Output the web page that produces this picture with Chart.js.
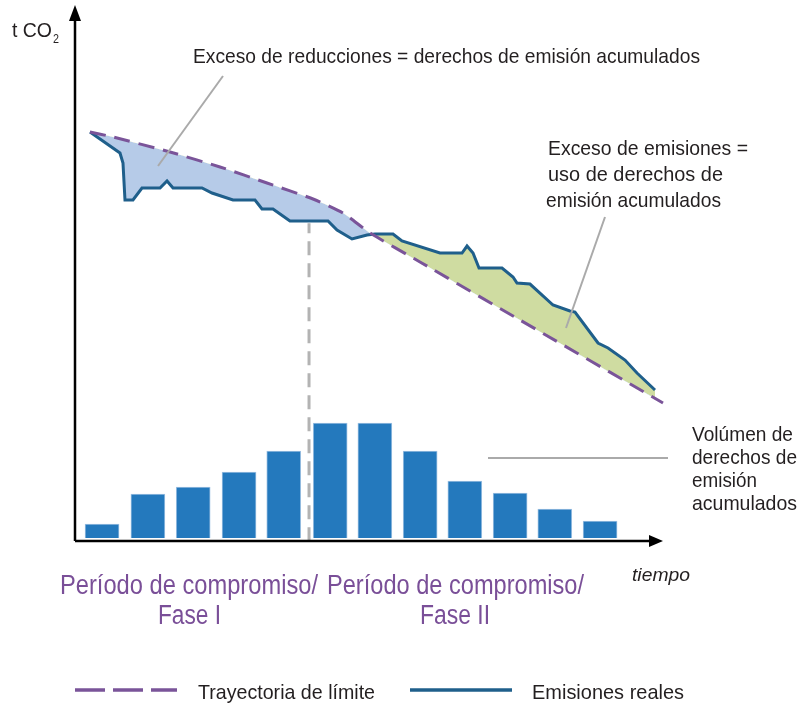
<!DOCTYPE html>
<html>
<head>
<meta charset="utf-8">
<script src="https://cdn.jsdelivr.net/npm/chart.js@4"></script>
<style>
  body { margin: 0; background: #fff; }
  canvas { display: block; }
</style>
</head>
<body>
<canvas id="chart" width="803" height="705"></canvas>
<script>
// time axis 0..100, tCO2 axis 0..100 (arbitrary units)
const limitX = [2.55, 6.46, 16.16, 24.66, 32.65, 40.48, 45.58, 50.17, 58.67, 75.68, 100];
const limitY = [76.6, 75.66, 72.83, 70.0, 66.98, 63.96, 61.32, 57.55, 52.08, 41.13, 25.47];

const realX = [2.55, 7.65, 8.16, 8.5, 9.86, 11.39, 14.46, 15.65, 16.67, 21.6, 23.3, 26.87, 30.61, 31.8,
  33.67, 36.56, 43.03, 44.56, 47.11, 49.66, 51.02, 54.08, 55.61, 62.07, 65.82, 66.67, 67.69, 68.71,
  72.62, 74.49, 75.17, 77.38, 81.29, 84.18, 85.03, 88.95, 90.65, 93.54, 95.58, 98.64];
const realY = [76.6, 72.64, 70.75, 63.77, 63.77, 66.04, 66.04, 67.36, 66.04, 66.04, 65.09, 63.77, 63.77, 62.08,
  62.08, 59.81, 59.81, 58.11, 56.42, 57.17, 57.36, 57.36, 56.04, 53.77, 53.77, 55.09, 53.77, 50.94,
  50.94, 49.25, 48.11, 47.92, 43.96, 42.83, 42.64, 36.79, 35.85, 33.58, 31.13, 27.92];

const barX = [4.6, 12.4, 20.1, 27.9, 35.5, 43.4, 51.0, 58.7, 66.3, 74.0, 81.6, 89.3];
const barY = [2.64, 8.3, 9.62, 12.45, 16.42, 21.7, 21.7, 16.42, 10.75, 8.49, 5.47, 3.21];

const phaseX = 39.8;
const phaseY = [-0.6, 59.4];

const pts = (xs, ys) => xs.map((x, i) => ({ x, y: ys[i] }));

const FONT = "'Liberation Sans Narrow', 'Liberation Sans', Arial, sans-serif";

function fitText(ctx, str, x, y, w, size, color, style) {
  ctx.font = `${style || ""} ${size}px ${FONT}`;
  const m = ctx.measureText(str).width;
  ctx.save();
  ctx.fillStyle = color;
  ctx.textBaseline = "alphabetic";
  ctx.translate(x, y);
  ctx.scale(w / m, 1);
  ctx.fillText(str, 0, 0);
  ctx.restore();
}

function line(ctx, x1, y1, x2, y2, color, width, dash) {
  ctx.save();
  ctx.strokeStyle = color;
  ctx.lineWidth = width;
  ctx.setLineDash(dash || []);
  ctx.beginPath();
  ctx.moveTo(x1, y1);
  ctx.lineTo(x2, y2);
  ctx.stroke();
  ctx.restore();
}

const decorations = {
  id: "decorations",
  afterDatasetsDraw(chart) {
    const ctx = chart.ctx;
    const a = chart.chartArea;
    const ax = a.left, ay = a.bottom + 3;

    // axes with arrow heads
    line(ctx, ax, ay, ax, a.top + 6, "#000", 2.5);
    line(ctx, ax, ay, a.right - 8, ay, "#000", 2.5);
    ctx.fillStyle = "#000";
    ctx.beginPath();
    ctx.moveTo(ax, a.top - 3);
    ctx.lineTo(ax - 6, a.top + 13);
    ctx.lineTo(ax + 6, a.top + 13);
    ctx.closePath();
    ctx.fill();
    ctx.beginPath();
    ctx.moveTo(a.right, ay);
    ctx.lineTo(a.right - 14, ay - 6);
    ctx.lineTo(a.right - 14, ay + 6);
    ctx.closePath();
    ctx.fill();

    // leader lines
    line(ctx, 223, 76, 158, 166, "#aaaaaa", 2);
    line(ctx, 605, 217, 566, 328, "#aaaaaa", 2);
    line(ctx, 488, 458, 668, 458, "#aaaaaa", 2);

    // texts
    const dark = "#231f20";
    fitText(ctx, "t CO", 12, 37, 40, 21, dark);
    fitText(ctx, "2", 53, 43, 6, 13, dark);
    fitText(ctx, "Exceso de reducciones = derechos de emisión acumulados", 193, 63, 507, 21, dark);
    fitText(ctx, "Exceso de emisiones =", 548, 155, 200, 21, dark);
    fitText(ctx, "uso de derechos de", 548, 181, 175, 21, dark);
    fitText(ctx, "emisión acumulados", 546, 207, 175, 21, dark);
    fitText(ctx, "Volúmen de", 692, 441, 101, 21, dark);
    fitText(ctx, "derechos de", 692, 464, 105, 21, dark);
    fitText(ctx, "emisión", 692, 487, 65, 21, dark);
    fitText(ctx, "acumulados", 692, 510, 105, 21, dark);
    fitText(ctx, "tiempo", 632, 581, 58, 19, dark, "italic");

    const purple = "#7a4f98";
    fitText(ctx, "Período de compromiso/", 60, 594, 258, 27, purple);
    fitText(ctx, "Período de compromiso/", 327, 594, 257, 27, purple);
    fitText(ctx, "Fase I", 158, 624, 63, 27, purple);
    fitText(ctx, "Fase II", 420, 624, 70, 27, purple);

    // legend
    line(ctx, 75, 690, 177, 690, "#7a5499", 3.5, [30, 8]);
    fitText(ctx, "Trayectoria de límite", 198, 699, 177, 21, dark);
    line(ctx, 410, 690, 512, 690, "#1f5f8b", 3.5);
    fitText(ctx, "Emisiones reales", 532, 699, 152, 21, dark);
  }
};

new Chart(document.getElementById("chart"), {
  type: "bar",
  data: {
    datasets: [
      {
        type: "line",
        label: "Trayectoria de límite",
        data: pts(limitX, limitY),
        borderColor: "#7a5499",
        borderWidth: 3,
        borderDash: [16, 9],
        pointRadius: 0,
        tension: 0.2,
        fill: false,
        clip: false,
        order: 1,
      },
      {
        type: "line",
        label: "Emisiones reales",
        data: pts(realX, realY),
        borderColor: "#1f5f8b",
        borderWidth: 3,
        pointRadius: 0,
        tension: 0,
        fill: { target: 0, above: "#cfdca1", below: "#b6cbe8" },
        clip: false,
        order: 2,
      },
      {
        type: "bar",
        label: "Volúmen de derechos de emisión acumulados",
        data: pts(barX, barY),
        backgroundColor: "#2479bd",
        borderColor: "#9cc0e2",
        borderWidth: 1,
        barThickness: 34,
        order: 3,
      },
      {
        type: "line",
        label: "fase",
        data: pts([phaseX, phaseX], phaseY),
        borderColor: "#b3b3b3",
        borderWidth: 3,
        borderDash: [14, 8],
        pointRadius: 0,
        fill: false,
        clip: false,
        order: 4,
      },
    ],
  },
  options: {
    responsive: false,
    animation: false,
    devicePixelRatio: 1,
    layout: { padding: { left: 75, right: 140, top: 8, bottom: 167 } },
    scales: {
      x: { type: "linear", min: 0, max: 100, offset: false, display: false },
      y: { type: "linear", min: 0, max: 100, display: false },
    },
    plugins: { legend: { display: false }, tooltip: { enabled: false } },
  },
  plugins: [decorations],
});
</script>
</body>
</html>
